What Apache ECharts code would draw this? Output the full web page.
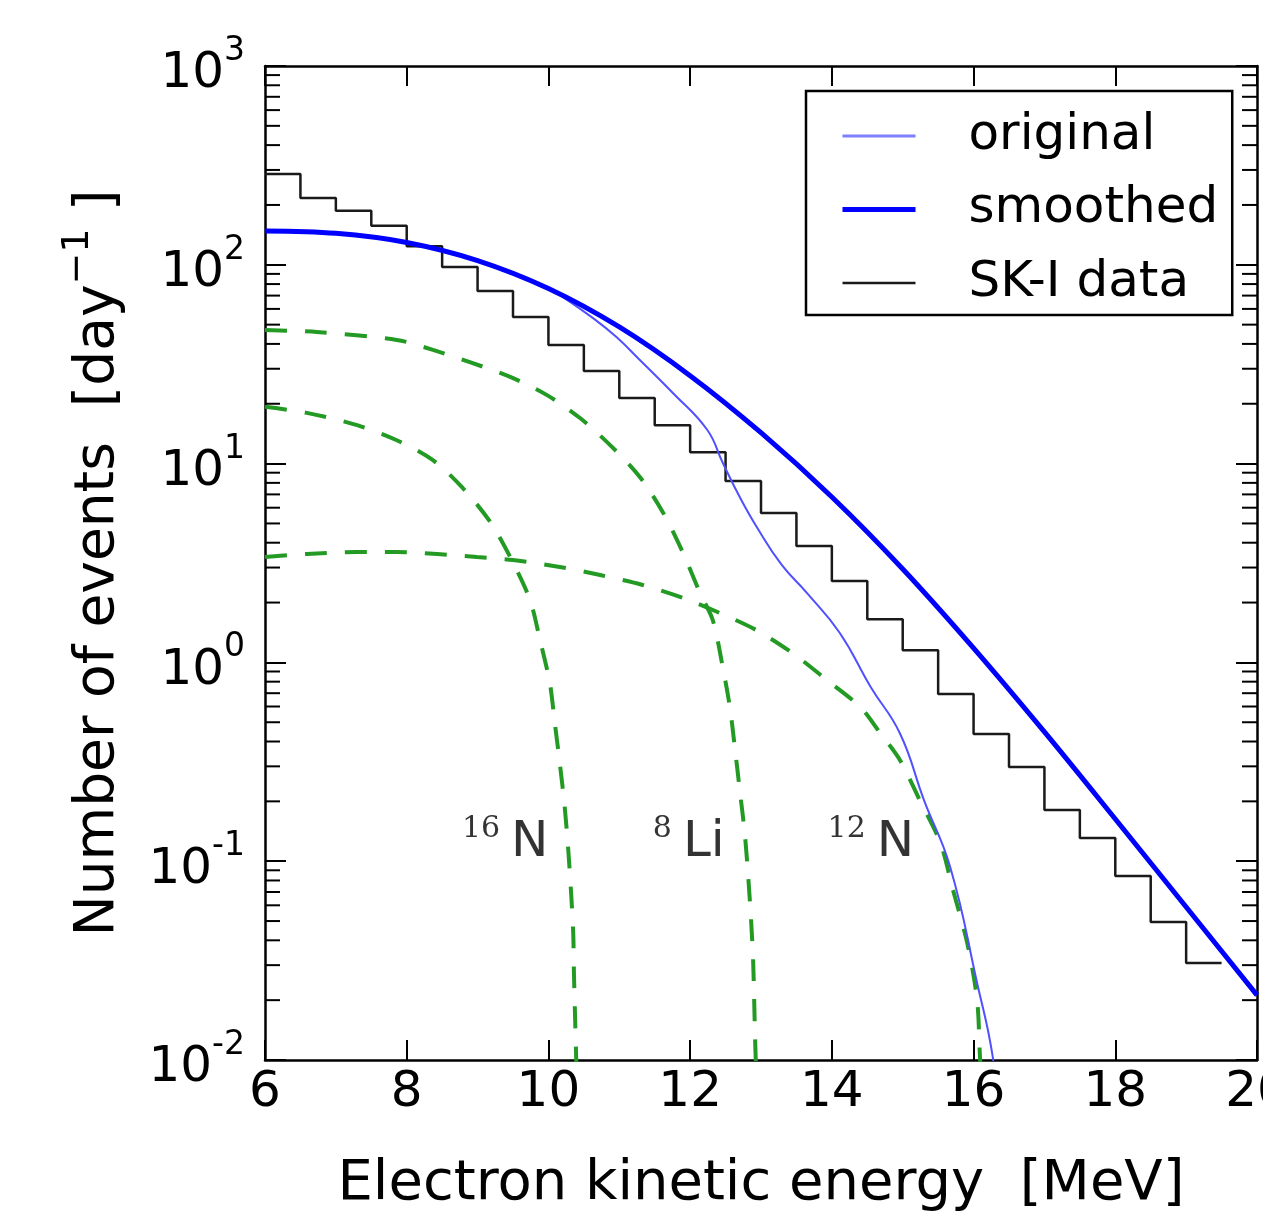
<!DOCTYPE html>
<html><head><meta charset="utf-8">
<script src="https://cdn.jsdelivr.net/npm/echarts@6/dist/echarts.min.js"></script>
<style>html,body{margin:0;padding:0;background:#fff}#c{width:1263px;height:1213px}</style>
</head><body><div id="c"></div>
<script>
// ---------- data ----------
const X_MIN = 6, X_MAX = 20, X_INTERVAL = 2;
const Y_MIN = 0.01, Y_MAX = 1000;
const Y_DECADES = [0.01, 0.1, 1, 10, 100, 1000];
const Y_EXPONENTS = ['-2', '-1', '0', '1', '2', '3'];
const Y_MINOR = [0.02,0.03,0.04,0.05,0.06,0.07,0.08,0.09,
                 0.2,0.3,0.4,0.5,0.6,0.7,0.8,0.9,
                 2,3,4,5,6,7,8,9,
                 20,30,40,50,60,70,80,90,
                 200,300,400,500,600,700,800,900];

// SK-I data histogram (0.5 MeV bins)
const binStarts = [6.0,6.5,7.0,7.5,8.0,8.5,9.0,9.5,10.0,10.5,11.0,11.5,12.0,12.5,13.0,13.5,14.0,14.5,15.0,15.5,16.0,16.5,17.0,17.5,18.0,18.5,19.0];
const binEnd = 19.5;
const skData = [286,217,187,157,124,97.5,73.8,54.6,39.5,29.2,21.4,15.6,11.4,8.17,5.64,3.85,2.57,1.65,1.15,0.693,0.436,0.298,0.181,0.131,0.0843,0.0494,0.0308];

// smoothed
const smoothE = [6,7,8,9,10,11,12,13,14,15,16,17,18,19,20];
const smoothV = [148,144,129.5,105,76.0,48.7,27.7,14.3,6.79,2.95,1.18,0.447,0.163,0.0588,0.0212];

// original
const origE = [6.0,7.0,8.0,9.0,10.0,10.2,10.63,10.96,11.29,11.76,12.24,12.46,12.70,12.94,13.29,13.65,14.11,14.55,14.96,15.3,15.67,16.05,16.27,16.35];
const origV = [148,144,129.5,105,76.0,69.0,53.9,43.3,33.2,22.6,14.8,10.1,6.79,4.80,3.1,2.23,1.41,0.75,0.44,0.203,0.0935,0.0244,0.0104,0.005];

// 16N
const n16E = [6.0,6.59,7.30,7.86,8.37,8.79,9.18,9.46,9.74,9.88,10.02,10.09,10.16,10.23,10.28,10.32,10.35,10.36,10.39,10.41];
const n16V = [19.3,18.0,15.6,13.1,10.4,7.54,5.08,3.39,2.06,1.30,0.787,0.495,0.312,0.187,0.114,0.0692,0.0435,0.0274,0.0108,0.006];

// 8Li
const li8E = [6.0,6.73,7.86,8.37,8.89,9.46,9.98,10.45,10.90,11.29,11.62,11.90,12.14,12.32,12.46,12.56,12.63,12.70,12.77,12.82,12.86,12.89,12.92,12.95];
const li8V = [47.0,45.9,41.9,37.3,32.4,27.3,22.1,16.9,12.1,8.56,5.65,3.55,2.23,1.63,0.948,0.597,0.375,0.228,0.139,0.0832,0.0506,0.0308,0.0116,0.006];

// 12N
const n12E = [6.0,6.59,7.30,7.86,8.43,8.99,9.50,10.16,10.73,11.33,11.90,12.42,12.94,13.45,13.93,14.40,14.68,14.96,15.24,15.53,15.71,15.91,16.05,16.09,16.13];
const n12V = [3.39,3.51,3.59,3.59,3.51,3.39,3.27,3.02,2.75,2.45,2.11,1.77,1.45,1.11,0.815,0.597,0.442,0.323,0.203,0.124,0.0716,0.0388,0.0200,0.0104,0.006];

// isotope annotations
const annoText = ['{s|16}{n|N}', '{s|8}{n|Li}', '{s|12}{n|N}'];
const annoE = [9.39, 11.98, 14.55];
const annoV = [0.1236, 0.1236, 0.1236];

// ---------- chart ----------
const FONT = 'DejaVu Sans';
const pairs = (xs, ys) => xs.map((x, i) => [x, ys[i]]);
const histData = pairs(binStarts, skData).concat([[binEnd, skData[skData.length - 1]]]);
const GREEN = '#239a23';

const chart = echarts.init(document.getElementById('c'), null, {renderer: 'canvas'});

const dashed = (name, data) => ({
  name, type: 'line', data, showSymbol: false, symbol: 'none', smooth: 0.3,
  clip: true, silent: true, z: 2,
  lineStyle: {color: GREEN, width: 4, type: [22, 18]}
});

chart.setOption({
  animation: false,
  backgroundColor: '#fff',
  grid: {left: 265, top: 66, right: 6, bottom: 153, containLabel: false, outerBoundsMode: 'none'},
  legend: {
    orient: 'vertical', left: 806, top: 91,
    padding: [20, 14, 7, 34],
    itemWidth: 73, itemHeight: 20, itemGap: 23.5,
    borderColor: '#000', borderWidth: 2.5, borderRadius: 0,
    backgroundColor: '#fff',
    selectedMode: false,
    itemStyle: {color: 'rgba(0,0,0,0)', borderWidth: 0, opacity: 0},
    textStyle: {fontFamily: FONT, fontSize: 50, lineHeight: 50, color: '#000', padding: [0, 0, 0, 48]},
    data: [
      {name: 'original', lineStyle: {color: '#8080ff', width: 3}},
      {name: 'smoothed', lineStyle: {color: '#0000ff', width: 5}},
      {name: 'SK-I data', lineStyle: {color: '#1a1a1a', width: 2.5}}
    ]
  },
  xAxis: [{
    type: 'value', min: X_MIN, max: X_MAX, interval: X_INTERVAL, position: 'bottom',
    name: 'Electron kinetic energy  [MeV]', nameLocation: 'middle', nameGap: 96,
    nameTextStyle: {fontFamily: FONT, fontSize: 56, lineHeight: 56, color: '#000'},
    axisLine: {show: true, onZero: false, lineStyle: {color: '#000', width: 2.5}},
    axisTick: {show: true, inside: true, length: 20, lineStyle: {color: '#000', width: 2}},
    axisLabel: {fontFamily: FONT, fontSize: 50, lineHeight: 50, color: '#000', margin: 8, showMaxLabel: true, showMinLabel: true, hideOverlap: false},
    splitLine: {show: false}
  }, {
    type: 'value', min: X_MIN, max: X_MAX, interval: X_INTERVAL, position: 'top',
    axisLine: {show: true, onZero: false, lineStyle: {color: '#000', width: 2.5}},
    axisTick: {show: true, inside: true, length: 20, lineStyle: {color: '#000', width: 2}},
    axisLabel: {show: false}, splitLine: {show: false}
  }],
  yAxis: [{
    type: 'log', logBase: 10, min: Y_MIN, max: Y_MAX, position: 'left',
    name: '{t|Number of events  [day}{s|−1}{t| ]}', nameLocation: 'middle', nameGap: 133,
    nameTextStyle: {
      color: '#000',
      rich: {
        t: {fontFamily: FONT, fontSize: 55, lineHeight: 55, color: '#000'},
        s: {fontFamily: FONT, fontSize: 38, lineHeight: 38, color: '#000', padding: [0, 0, 40, 0]}
      }
    },
    axisLine: {show: true, onZero: false, lineStyle: {color: '#000', width: 2.5}},
    axisTick: {show: true, inside: true, length: 21, lineStyle: {color: '#000', width: 2}},
    axisLabel: {
      margin: 20, color: '#000',
      formatter: v => {
        let best = 0;
        Y_DECADES.forEach((d, i) => { if (Math.abs(Math.log10(d) - Math.log10(v)) < Math.abs(Math.log10(Y_DECADES[best]) - Math.log10(v))) best = i; });
        return '{b|10}{s|' + Y_EXPONENTS[best] + '}';
      },
      rich: {
        b: {fontFamily: FONT, fontSize: 50, lineHeight: 50, color: '#000', padding: [17, 0, 0, 0]},
        s: {fontFamily: FONT, fontSize: 33, lineHeight: 33, color: '#000', padding: [0, 0, 29, 0]}
      }
    },
    splitLine: {show: false}, minorTick: {show: false}
  }, {
    type: 'log', logBase: 10, min: Y_MIN, max: Y_MAX, position: 'right',
    axisLine: {show: true, onZero: false, lineStyle: {color: '#000', width: 2.5}},
    axisTick: {show: true, inside: true, length: 21, lineStyle: {color: '#000', width: 2}},
    axisLabel: {show: false}, splitLine: {show: false}
  }],
  series: [
    dashed('16N', pairs(n16E, n16V)),
    dashed('8Li', pairs(li8E, li8V)),
    dashed('12N', pairs(n12E, n12V)),
    {
      name: 'SK-I data', type: 'line', data: histData, step: 'end', showSymbol: false, symbol: 'none',
      silent: true, clip: true, z: 3,
      lineStyle: {color: '#1a1a1a', width: 2.5}, itemStyle: {color: '#1a1a1a'}
    },
    {
      name: 'original', type: 'line', data: pairs(origE, origV), showSymbol: false, symbol: 'none',
      smooth: 0.45, silent: true, clip: true, z: 4,
      lineStyle: {color: '#5050ff', width: 2}, itemStyle: {color: '#8080ff'}
    },
    {
      name: 'smoothed', type: 'line', data: pairs(smoothE, smoothV), showSymbol: false, symbol: 'none',
      smooth: 0.35, silent: true, clip: true, z: 5,
      lineStyle: {color: '#0000ff', width: 5}, itemStyle: {color: '#0000ff'}
    },
    {
      name: 'minorTicks', type: 'custom', silent: true, z: 6,
      data: Y_MINOR.map(v => [X_MIN, v]),
      renderItem: (params, api) => {
        const v = api.value(1);
        const l = api.coord([X_MIN, v]);
        const r = api.coord([X_MAX, v]);
        return {type: 'group', children: [
          {type: 'line', shape: {x1: l[0], y1: l[1], x2: l[0] + 15, y2: l[1]}, style: {stroke: '#000', lineWidth: 2}},
          {type: 'line', shape: {x1: r[0] - 15, y1: r[1], x2: r[0], y2: r[1]}, style: {stroke: '#000', lineWidth: 2}}
        ]};
      }
    },
    {
      name: 'labels', type: 'scatter', silent: true, symbolSize: 1, z: 7,
      itemStyle: {color: 'rgba(0,0,0,0)'},
      data: annoE.map((e, i) => ({value: [e, annoV[i]], label: {formatter: annoText[i]}})),
      label: {
        show: true, position: 'inside', color: '#000',
        rich: {
          s: {fontFamily: 'DejaVu Serif', fontSize: 30, lineHeight: 30, color: '#000', padding: [0, 11, 28, 0]},
          n: {fontFamily: FONT, fontSize: 50, lineHeight: 50, color: '#000'}
        }
      }
    }
  ]
});
</script>
</body></html>
